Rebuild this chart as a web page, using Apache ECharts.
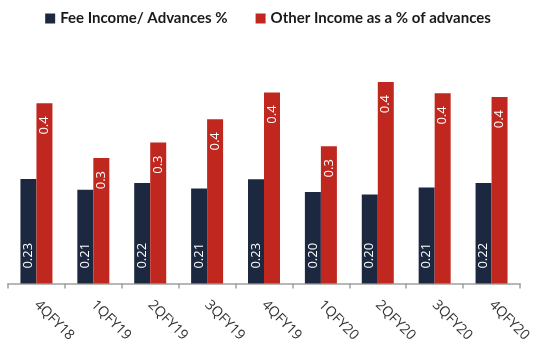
<!DOCTYPE html>
<html>
<head>
<meta charset="utf-8">
<script src="https://cdn.jsdelivr.net/npm/echarts@6/dist/echarts.min.js"></script>
<style>
  html, body { margin: 0; padding: 0; background: #ffffff; }
  #chart { width: 536px; height: 345px; }
</style>
</head>
<body>
<div id="chart"></div>
<script>
// Quarterly income ratios
const quarters = ['4QFY18', '1QFY19', '2QFY19', '3QFY19', '4QFY19', '1QFY20', '2QFY20', '3QFY20', '4QFY20'];
const feeIncome = [0.23, 0.206, 0.221, 0.209, 0.229, 0.201, 0.196, 0.211, 0.221];
const otherIncome = [0.396, 0.276, 0.310, 0.361, 0.420, 0.302, 0.443, 0.418, 0.410];
const seriesNames = ['Fee Income/ Advances %', 'Other Income as a % of advances'];

const NAVY = '#1c2840';
const RED = '#c0281f';

const chart = echarts.init(document.getElementById('chart'), null, { renderer: 'canvas' });

chart.setOption({
  animation: false,
  backgroundColor: '#ffffff',
  legend: {
    top: 6,
    left: 'center',
    itemWidth: 10,
    itemHeight: 10,
    itemGap: 28,
    icon: 'rect',
    textStyle: { fontFamily: 'Lato', fontWeight: 'bold', fontSize: 15, color: '#1a1a1a' },
    data: seriesNames
  },
  grid: { left: 8, right: 16, top: 56, bottom: 59.5, containLabel: false },
  xAxis: {
    type: 'category',
    data: quarters,
    axisLine: { lineStyle: { color: '#a0a0a0', width: 1.5 } },
    axisTick: { show: true, length: 5, lineStyle: { color: '#a0a0a0', width: 1.5 } },
    axisLabel: {
      rotate: -45,
      margin: 19,
      fontFamily: 'Open Sans',
      fontSize: 14,
      color: '#333333',
      interval: 0
    }
  },
  yAxis: {
    type: 'value',
    min: 0,
    max: 0.5,
    show: false,
    splitLine: { show: false }
  },
  series: [
    {
      name: seriesNames[0],
      type: 'bar',
      data: feeIncome,
      barWidth: 16,
      barGap: '0%',
      itemStyle: { color: NAVY },
      label: {
        show: true,
        position: 'insideBottom',
        rotate: 90,
        align: 'left',
        verticalAlign: 'middle',
        distance: 15,
        color: '#ffffff',
        fontFamily: 'Open Sans',
        fontSize: 13,
        formatter: p => p.value.toFixed(2)
      }
    },
    {
      name: seriesNames[1],
      type: 'bar',
      data: otherIncome,
      barWidth: 16,
      barGap: '0%',
      itemStyle: { color: RED },
      label: {
        show: true,
        position: 'insideTop',
        rotate: 90,
        align: 'right',
        verticalAlign: 'middle',
        distance: 13,
        color: '#ffffff',
        fontFamily: 'Open Sans',
        fontSize: 13,
        formatter: p => p.value.toFixed(1)
      }
    }
  ]
});
</script>
</body>
</html>
